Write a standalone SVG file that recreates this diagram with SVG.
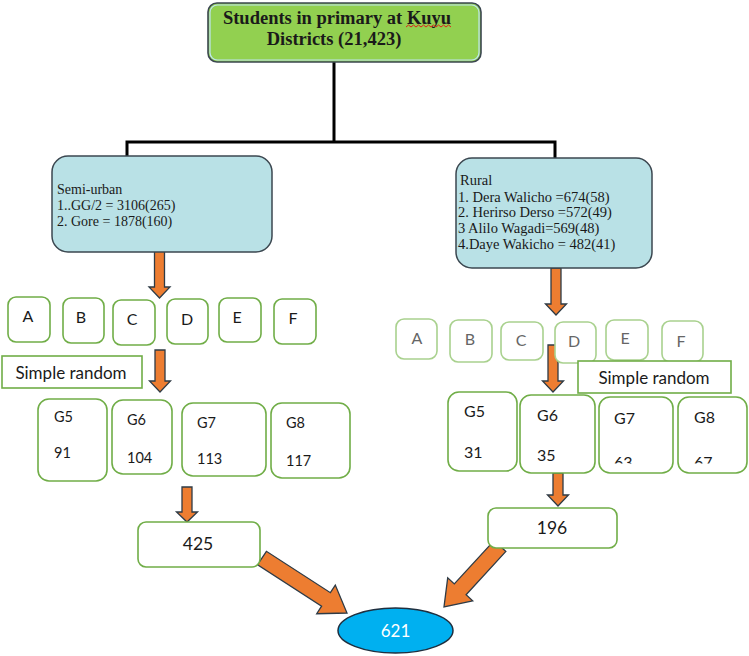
<svg xmlns="http://www.w3.org/2000/svg" width="749" height="656" viewBox="0 0 749 656">
<defs>
<style>
.ser{font-family:"Liberation Serif","Times New Roman",serif;fill:#1a1a1a}
.san{font-family:Lato,"Open Sans","Liberation Sans",sans-serif;fill:#1a1a1a}
.blue{fill:#b9e1e6;stroke:#3b4750;stroke-width:1.5}
.gb{fill:#fff;stroke:#70ad47;stroke-width:1.6}
.gl{fill:#fff;stroke:#a9d18e;stroke-width:1.6}
.arr{fill:#ed7d31;stroke:#2e3b46;stroke-width:1.3;stroke-linejoin:miter}
.lbl{font-size:16px;text-anchor:middle}
.lblg{font-size:16px;text-anchor:middle;fill:#666}
</style>
<clipPath id="clipR"><rect x="590" y="380" width="159" height="83.5"/></clipPath>
</defs>
<rect width="749" height="656" fill="#fff"/>

<g id="connectors">
<path d="M334,62 V142 M127,156 V142 H555 V158" fill="none" stroke="#000" stroke-width="3"/>
<polygon class="arr" points="154.5,246 164.5,246 164.5,287 170,287 159.5,298 149,287 154.5,287"/>
<polygon class="arr" points="155,350 165,350 165,381 170.5,381 160,392 149.5,381 155,381"/>
<polygon class="arr" points="182,487 192,487 192,512 197.5,512 187,522 176.5,512 182,512"/>
<polygon class="arr" points="551,268 561,268 561,304 566.5,304 556,315 545.5,304 551,304"/>
<polygon class="arr" points="548,345 558,345 558,381 563.5,381 553,392 542.5,381 548,381"/>
<polygon class="arr" points="553,473 563,473 563,495 568.5,495 558,506 547.5,495 553,495"/>
<polygon class="arr" points="257.6,564.7 266.4,551.3 330.4,592.7 335.3,585.1 347,613 316.7,613.7 321.6,606.1"/>
<polygon class="arr" points="505.9,551.4 494.1,540.6 454.3,583.9 447.7,577.8 444,607 472.7,600.8 466.1,594.7"/>
</g>

<g id="title">
<rect x="208" y="3" width="273" height="59" rx="9" fill="#92d050" stroke="#3b4750" stroke-width="1.6"/>
<rect x="210" y="5" width="269" height="55" rx="7.5" fill="none" stroke="#bfe4f2" stroke-width="1.2"/>
<text class="ser" x="337" y="24" font-size="18.5" font-weight="bold" text-anchor="middle">Students in primary at Kuyu</text>
<text class="ser" x="334" y="45" font-size="18.5" font-weight="bold" text-anchor="middle">Districts (21,423)</text>
<path d="M406,27 l2.5,-2 l2.5,2 l2.5,-2 l2.5,2 l2.5,-2 l2.5,2 l2.5,-2 l2.5,2 l2.5,-2 l2.5,2 l2.5,-2 l2.5,2 l2.5,-2 l2.5,2 l2.5,-2 l2.5,2 l2.5,-2 l2.5,2" fill="none" stroke="#e0201b" stroke-width="1"/>
</g>

<g id="semi-urban">
<rect class="blue" x="52" y="156" width="220" height="96" rx="16"/>
<text class="ser" font-size="14" x="57" y="194">Semi-urban</text>
<text class="ser" font-size="14" x="57" y="210">1..GG/2 = 3106(265)</text>
<text class="ser" font-size="14" x="57" y="225.5">2. Gore = 1878(160)</text>
</g>

<g id="rural">
<rect class="blue" x="456" y="158" width="196" height="110" rx="16"/>
<text class="ser" font-size="14.5" x="460" y="185">Rural</text>
<text class="ser" font-size="14.5" x="458" y="201.5">1. Dera Walicho =674(58)</text>
<text class="ser" font-size="14.5" x="458" y="217">2. Herirso Derso =572(49)</text>
<text class="ser" font-size="14.5" x="458" y="233">3 Alilo Wagadi=569(48)</text>
<text class="ser" font-size="14.5" x="458" y="248.5">4.Daye Wakicho = 482(41)</text>
</g>

<g id="left-schools">
<rect class="gb" x="8" y="297" width="42" height="45" rx="8"/>
<rect class="gb" x="63" y="298" width="41" height="45" rx="8"/>
<rect class="gb" x="113" y="300" width="42" height="45" rx="8"/>
<rect class="gb" x="167" y="299" width="41" height="45" rx="8"/>
<rect class="gb" x="219" y="298" width="42" height="44" rx="8"/>
<rect class="gb" x="274" y="299" width="42" height="45" rx="8"/>
<text class="san lbl" x="28" y="322">A</text>
<text class="san lbl" x="81" y="323">B</text>
<text class="san lbl" x="132" y="325">C</text>
<text class="san lbl" x="187" y="325">D</text>
<text class="san lbl" x="237" y="323">E</text>
<text class="san lbl" x="293" y="324">F</text>
</g>

<g id="right-schools">
<rect class="gl" x="396" y="319" width="41" height="40" rx="8"/>
<rect class="gl" x="450" y="320" width="42" height="42" rx="8"/>
<rect class="gl" x="501" y="322" width="42" height="38" rx="8"/>
<rect class="gl" x="555" y="322" width="41" height="41" rx="8"/>
<rect class="gl" x="606" y="320" width="42" height="40" rx="8"/>
<rect class="gl" x="662" y="321" width="41" height="41" rx="8"/>
<text class="san lblg" x="417" y="344">A</text>
<text class="san lblg" x="470" y="345">B</text>
<text class="san lblg" x="521" y="346">C</text>
<text class="san lblg" x="574" y="347">D</text>
<text class="san lblg" x="625" y="344">E</text>
<text class="san lblg" x="681" y="347">F</text>
</g>

<g id="simple-random-left">
<rect x="2" y="356" width="140" height="32" fill="#fff" stroke="#70ad47" stroke-width="1.6"/>
<text class="san" x="71" y="379" font-size="17" text-anchor="middle">Simple random</text>
</g>

<g id="simple-random-right">
<rect x="578" y="361" width="153" height="32" fill="#fff" stroke="#70ad47" stroke-width="1.6"/>
<text class="san" x="654" y="384" font-size="17" text-anchor="middle">Simple random</text>
</g>

<g id="left-grades">
<rect class="gb" x="38" y="399" width="69" height="82" rx="11"/>
<rect class="gb" x="112" y="400" width="60" height="74" rx="11"/>
<rect class="gb" x="182" y="403" width="84" height="73" rx="11"/>
<rect class="gb" x="271" y="403" width="79" height="75" rx="11"/>
<text class="san" font-size="14.5" x="54" y="422">G5</text>
<text class="san" font-size="14.5" x="54" y="458">91</text>
<text class="san" font-size="14.5" x="127" y="425">G6</text>
<text class="san" font-size="14.5" x="127" y="463">104</text>
<text class="san" font-size="14.5" x="197" y="428">G7</text>
<text class="san" font-size="14.5" x="197" y="464">113</text>
<text class="san" font-size="14.5" x="286" y="428">G8</text>
<text class="san" font-size="14.5" x="286" y="466">117</text>
</g>

<g id="right-grades">
<rect class="gb" x="448" y="392" width="69" height="79" rx="11"/>
<rect class="gb" x="520" y="395" width="75" height="78" rx="11"/>
<rect class="gb" x="599" y="397" width="74" height="76" rx="11"/>
<rect class="gb" x="678" y="397" width="69" height="76" rx="11"/>
<text class="san" font-size="16" x="464" y="417">G5</text>
<text class="san" font-size="16" x="464" y="458">31</text>
<text class="san" font-size="16" x="537" y="421">G6</text>
<text class="san" font-size="16" x="537" y="461">35</text>
<text class="san" font-size="16" x="614" y="424">G7</text>
<text class="san" font-size="16" x="694" y="423">G8</text>
<g clip-path="url(#clipR)">
<text class="san" font-size="16" x="614" y="468">63</text>
<text class="san" font-size="16" x="694" y="468">67</text>
</g>
</g>

<g id="total-left">
<rect class="gb" x="138" y="522" width="122" height="45" rx="8"/>
<text class="san" x="198" y="550" font-size="17.5" text-anchor="middle">425</text>
</g>

<g id="total-right">
<rect class="gb" x="488" y="508" width="129" height="40" rx="8"/>
<text class="san" x="552" y="534" font-size="17.5" text-anchor="middle">196</text>
</g>

<g id="grand-total">
<ellipse cx="395.5" cy="630.5" rx="57.5" ry="22.5" fill="#00b0f0" stroke="#1f2f3f" stroke-width="1.5"/>
<text x="395.5" y="637" font-family="Lato,'Open Sans','Liberation Sans',sans-serif" font-size="17" fill="#fff" text-anchor="middle">621</text>
</g>
</svg>
